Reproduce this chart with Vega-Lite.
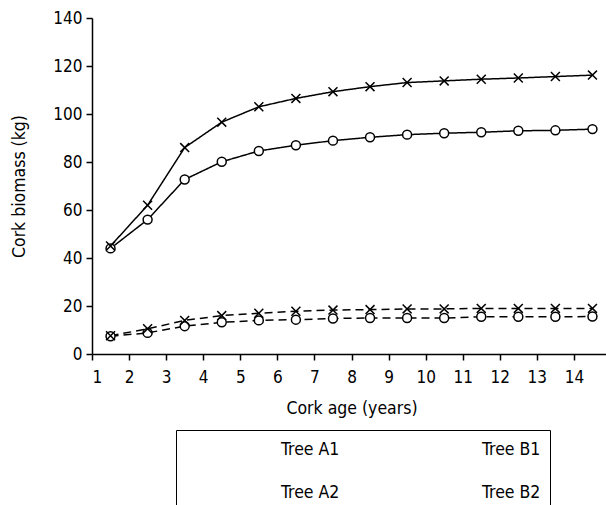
{
  "$schema": "https://vega.github.io/schema/vega-lite/v6.json",
  "autosize": {"type": "none"},
  "padding": {"left": 92, "top": 18, "right": 0, "bottom": 152},
  "width": 519,
  "height": 336,
  "background": "white",
  "config": {
    "view": {"stroke": null},
    "font": "'DejaVu Sans Condensed', 'Liberation Sans', sans-serif",
    "axis": {
      "grid": false,
      "domainColor": "black",
      "domainWidth": 1.5,
      "tickColor": "black",
      "tickWidth": 1.5,
      "tickSize": 6,
      "labelColor": "black",
      "labelFont": "'DejaVu Sans Condensed', 'Liberation Sans', sans-serif",
      "labelFontSize": 17,
      "titleColor": "black",
      "titleFont": "'DejaVu Sans Condensed', 'Liberation Sans', sans-serif",
      "titleFontSize": 17.5,
      "titleFontWeight": "normal"
    }
  },
  "data": {
    "values": [
      {"age": 1.5, "series": "Tree A1", "biomass": 7.4},
      {"age": 2.5, "series": "Tree A1", "biomass": 8.8},
      {"age": 3.5, "series": "Tree A1", "biomass": 11.6},
      {"age": 4.5, "series": "Tree A1", "biomass": 13.2},
      {"age": 5.5, "series": "Tree A1", "biomass": 14.0},
      {"age": 6.5, "series": "Tree A1", "biomass": 14.3},
      {"age": 7.5, "series": "Tree A1", "biomass": 14.8},
      {"age": 8.5, "series": "Tree A1", "biomass": 15.0},
      {"age": 9.5, "series": "Tree A1", "biomass": 15.0},
      {"age": 10.5, "series": "Tree A1", "biomass": 15.0},
      {"age": 11.5, "series": "Tree A1", "biomass": 15.5},
      {"age": 12.5, "series": "Tree A1", "biomass": 15.5},
      {"age": 13.5, "series": "Tree A1", "biomass": 15.5},
      {"age": 14.5, "series": "Tree A1", "biomass": 15.6},
      {"age": 1.5, "series": "Tree A2", "biomass": 7.6},
      {"age": 2.5, "series": "Tree A2", "biomass": 10.5},
      {"age": 3.5, "series": "Tree A2", "biomass": 14.0},
      {"age": 4.5, "series": "Tree A2", "biomass": 16.0},
      {"age": 5.5, "series": "Tree A2", "biomass": 17.0},
      {"age": 6.5, "series": "Tree A2", "biomass": 17.8},
      {"age": 7.5, "series": "Tree A2", "biomass": 18.3},
      {"age": 8.5, "series": "Tree A2", "biomass": 18.5},
      {"age": 9.5, "series": "Tree A2", "biomass": 18.8},
      {"age": 10.5, "series": "Tree A2", "biomass": 18.8},
      {"age": 11.5, "series": "Tree A2", "biomass": 19.0},
      {"age": 12.5, "series": "Tree A2", "biomass": 19.0},
      {"age": 13.5, "series": "Tree A2", "biomass": 19.0},
      {"age": 14.5, "series": "Tree A2", "biomass": 19.0},
      {"age": 1.5, "series": "Tree B1", "biomass": 44.0},
      {"age": 2.5, "series": "Tree B1", "biomass": 56.0},
      {"age": 3.5, "series": "Tree B1", "biomass": 72.7},
      {"age": 4.5, "series": "Tree B1", "biomass": 80.1},
      {"age": 5.5, "series": "Tree B1", "biomass": 84.6},
      {"age": 6.5, "series": "Tree B1", "biomass": 87.0},
      {"age": 7.5, "series": "Tree B1", "biomass": 88.9},
      {"age": 8.5, "series": "Tree B1", "biomass": 90.3},
      {"age": 9.5, "series": "Tree B1", "biomass": 91.4},
      {"age": 10.5, "series": "Tree B1", "biomass": 92.0},
      {"age": 11.5, "series": "Tree B1", "biomass": 92.4},
      {"age": 12.5, "series": "Tree B1", "biomass": 93.0},
      {"age": 13.5, "series": "Tree B1", "biomass": 93.2},
      {"age": 14.5, "series": "Tree B1", "biomass": 93.7},
      {"age": 1.5, "series": "Tree B2", "biomass": 45.0},
      {"age": 2.5, "series": "Tree B2", "biomass": 62.0},
      {"age": 3.5, "series": "Tree B2", "biomass": 86.0},
      {"age": 4.5, "series": "Tree B2", "biomass": 96.6},
      {"age": 5.5, "series": "Tree B2", "biomass": 103.0},
      {"age": 6.5, "series": "Tree B2", "biomass": 106.5},
      {"age": 7.5, "series": "Tree B2", "biomass": 109.3},
      {"age": 8.5, "series": "Tree B2", "biomass": 111.4},
      {"age": 9.5, "series": "Tree B2", "biomass": 113.1},
      {"age": 10.5, "series": "Tree B2", "biomass": 113.8},
      {"age": 11.5, "series": "Tree B2", "biomass": 114.5},
      {"age": 12.5, "series": "Tree B2", "biomass": 115.0},
      {"age": 13.5, "series": "Tree B2", "biomass": 115.6},
      {"age": 14.5, "series": "Tree B2", "biomass": 116.2}
    ]
  },
  "encoding": {
    "x": {
      "field": "age",
      "type": "quantitative",
      "scale": {"domain": [1, 15], "nice": false},
      "axis": {"values": [1,2,3,4,5,6,7,8,9,10,11,12,13,14], "title": "Cork age (years)", "labelPadding": 9, "titlePadding": 14}
    },
    "y": {
      "field": "biomass",
      "type": "quantitative",
      "scale": {"domain": [0, 140], "nice": false},
      "axis": {"values": [0,20,40,60,80,100,120,140], "title": "Cork biomass (kg)", "labelPadding": 4, "titlePadding": 24}
    }
  },
  "layer": [
    {
      "mark": {"type": "line", "color": "black", "strokeWidth": 1.5},
      "encoding": {
        "detail": {"field": "series"},
        "strokeDash": {
          "field": "series",
          "type": "nominal",
          "scale": {"domain": ["Tree A1", "Tree A2", "Tree B1", "Tree B2"], "range": [[8, 5], [8, 5], [1, 0], [1, 0]]},
          "legend": null
        }
      }
    },
    {
      "mark": {"type": "point", "filled": true, "fill": "white", "stroke": "black", "strokeWidth": 1.5, "opacity": 1},
      "encoding": {
        "shape": {
          "field": "series",
          "type": "nominal",
          "scale": {"domain": ["Tree A1", "Tree B1", "Tree A2", "Tree B2"], "range": ["circle", "circle", "M-1,-1L1,1M-1,1L1,-1", "M-1,-1L1,1M-1,1L1,-1"]},
          "legend": {
            "title": null,
            "orient": "none",
            "direction": "horizontal",
            "legendX": 84,
            "legendY": 412,
            "columns": 2,
            "strokeColor": "black",
            "padding": 9,
            "rowPadding": 17,
            "columnPadding": 46,
            "symbolSize": 400,
            "symbolOffset": 18,
            "labelOffset": 56,
            "labelFont": "'DejaVu Sans Condensed', 'Liberation Sans', sans-serif",
            "labelFontSize": 17.5,
            "labelColor": "black",
            "symbolStrokeWidth": 1.5,
            "symbolStrokeColor": "black",
            "symbolFillColor": "white",
            "encode": {
              "symbols": {
                "shape": {
                  "condition": [
                    {"test": "datum.value === 'Tree A1'", "value": "M-2.9,0H-2.1M-1.6,0H-0.8M0.8,0H1.6M2.1,0H2.9M0.45,0A0.45,0.45,0,1,1,-0.45,0A0.45,0.45,0,1,1,0.45,0Z"},
                    {"test": "datum.value === 'Tree B1'", "value": "M-3.1,0H-0.45M0.45,0H3.1M0.45,0A0.45,0.45,0,1,1,-0.45,0A0.45,0.45,0,1,1,0.45,0Z"},
                    {"test": "datum.value === 'Tree A2'", "value": "M-2.9,0H-2.1M-1.6,0H-0.8M0.8,0H1.6M2.1,0H2.9M-0.4,-0.4L0.4,0.4M-0.4,0.4L0.4,-0.4"}
                  ],
                  "value": "M-3.1,0H3.1M-0.4,-0.4L0.4,0.4M-0.4,0.4L0.4,-0.4"
                },
                "stroke": {"value": "black"},
                "fill": {"value": "white"},
                "strokeWidth": {"value": 1.5},
                "opacity": {"value": 1}
              }
            }
          }
        },
        "size": {"value": 80}
      }
    }
  ]
}
